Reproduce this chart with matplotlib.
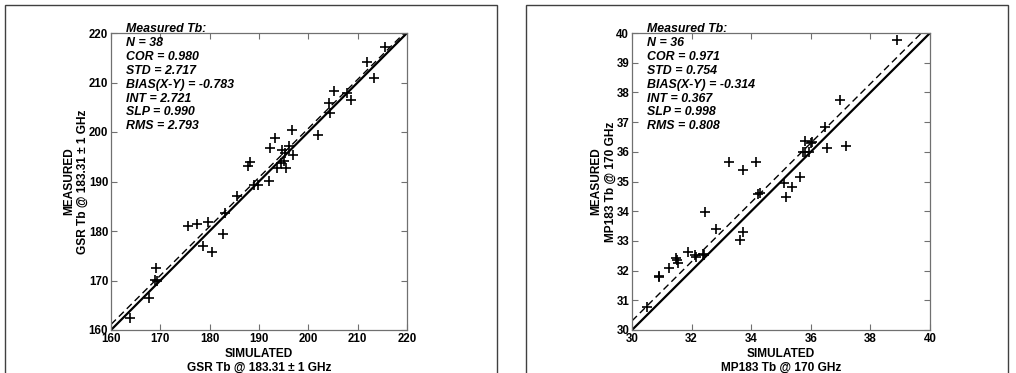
import matplotlib.pyplot as plt
from matplotlib.patches import Rectangle

# left panel: GSR vs simulated, 183.31 +/- 1 GHz
gsr_sim = [163.8, 167.8, 169.1, 169.0, 169.4, 175.7, 177.5, 179.6, 178.6, 180.4,
           182.7, 183.1, 185.6, 187.8, 188.1, 189.0, 189.7, 192.1, 192.2, 193.2,
           193.7, 194.5, 194.7, 195.4, 195.2, 196.1, 196.6, 196.9, 202.0, 204.2,
           204.3, 205.3, 207.9, 208.7, 211.8, 213.4, 215.6, 195.0]
gsr_meas = [162.4, 166.4, 172.5, 170.2, 169.8, 181.0, 181.4, 181.9, 176.9, 175.7,
            179.4, 183.6, 187.0, 193.2, 194.0, 189.2, 189.2, 190.2, 196.7, 198.8,
            192.8, 193.7, 196.4, 192.8, 195.7, 197.1, 200.5, 195.4, 199.3, 205.9,
            203.8, 208.3, 207.9, 206.4, 214.1, 211.0, 217.1, 194.2]
gsr_stats = ["Measured Tb:", "N = 38", "COR = 0.980", "STD = 2.717",
             "BIAS(X-Y) = -0.783", "INT = 2.721", "SLP = 0.990", "RMS = 2.793"]
gsr_fit = (2.721, 0.990)

# right panel: MP183 vs simulated, 170 GHz
mp_sim = [30.51, 30.89, 31.23, 31.46, 31.56, 31.88, 32.10, 32.41, 32.44, 32.83,
          33.25, 33.63, 33.72, 33.72, 34.17, 34.22, 35.09, 35.17, 35.37, 35.65,
          35.73, 35.79, 35.93, 36.03, 36.48, 36.55, 36.98, 37.18, 38.88, 32.16,
          34.28, 35.80, 32.38, 31.50, 30.92, 36.00]
mp_meas = [30.76, 31.82, 32.08, 32.44, 32.27, 32.64, 32.53, 32.53, 33.97, 33.39,
           35.65, 33.03, 33.31, 35.39, 35.65, 34.57, 34.94, 34.49, 34.81, 35.15,
           35.99, 36.35, 35.99, 36.33, 36.85, 36.12, 37.73, 36.18, 39.75, 32.47,
           34.61, 35.98, 32.56, 32.36, 31.79, 36.28]
mp_stats = ["Measured Tb:", "N = 36", "COR = 0.971", "STD = 0.754",
            "BIAS(X-Y) = -0.314", "INT = 0.367", "SLP = 0.998", "RMS = 0.808"]
mp_fit = (0.367, 0.998)

W, H = 1016, 373


def draw_panel(fig, rect, x, y, lims, ticks, fit, stats, ylab, xlab):
    ax = fig.add_axes(rect)
    lo, hi = lims
    ax.plot([lo, hi], [lo, hi], color='black', lw=1.6, zorder=2)
    ax.plot([lo, hi], [fit[0] + fit[1] * lo, fit[0] + fit[1] * hi],
            color='black', lw=1.0, ls=(0, (5, 3)), zorder=2)
    ax.plot(x, y, '+', color='black', ms=7, mew=1.2, zorder=3)
    ax.set_xlim(lo, hi)
    ax.set_ylim(lo, hi)
    ax.set_xticks(ticks[0])
    ax.set_yticks(ticks[1])
    ax.tick_params(direction='in', top=True, right=True, length=4,
                   width=0.8, color='#707070', labelsize=8.3, pad=2)
    for lab in ax.get_xticklabels() + ax.get_yticklabels():
        lab.set_fontweight('bold')
    for s in ax.spines.values():
        s.set_color('#707070')
        s.set_linewidth(0.9)
    ax.set_xlabel(xlab, fontsize=8.6, fontweight='bold', labelpad=2.5, linespacing=1.15)
    ax.set_ylabel(ylab, fontsize=8.6, fontweight='bold', labelpad=0, linespacing=1.2)
    for i, s in enumerate(stats):
        ax.text(15 / (rect[2] * W), 1 + 4 / (rect[3] * H) - i * 13.9 / (rect[3] * H), s,
                transform=ax.transAxes, fontsize=8.9, fontweight='bold',
                style='italic', va='center', ha='left', clip_on=False)
    return ax


def main():
    plt.rcParams['font.family'] = ['Liberation Sans', 'DejaVu Sans']
    fig = plt.figure(figsize=(W / 100, H / 100), dpi=100)

    # panel frames
    for x0, x1 in [(5, 497), (526, 1008)]:
        fig.patches.append(Rectangle((x0 / W, -0.05), (x1 - x0) / W, (H - 5) / H + 0.05,
                                     transform=fig.transFigure, fill=False,
                                     edgecolor='#404040', lw=1.0))

    draw_panel(fig, [111 / W, 43 / H, 296 / W, 297 / H], gsr_sim, gsr_meas,
               (160, 220), ([160, 170, 180, 190, 200, 210, 220],
                            [160, 170, 180, 190, 200, 210, 220]),
               gsr_fit, gsr_stats,
               "MEASURED\nGSR Tb @ 183.31 \u00b1 1 GHz",
               "SIMULATED\nGSR Tb @ 183.31 \u00b1 1 GHz")
    draw_panel(fig, [632 / W, 43 / H, 298 / W, 297 / H], mp_sim, mp_meas,
               (30, 40), ([30, 32, 34, 36, 38, 40], list(range(30, 41))),
               mp_fit, mp_stats,
               "MEASURED\nMP183 Tb @ 170 GHz",
               "SIMULATED\nMP183 Tb @ 170 GHz")

    fig.savefig('out.png', dpi=100)


if __name__ == "__main__":
    main()
